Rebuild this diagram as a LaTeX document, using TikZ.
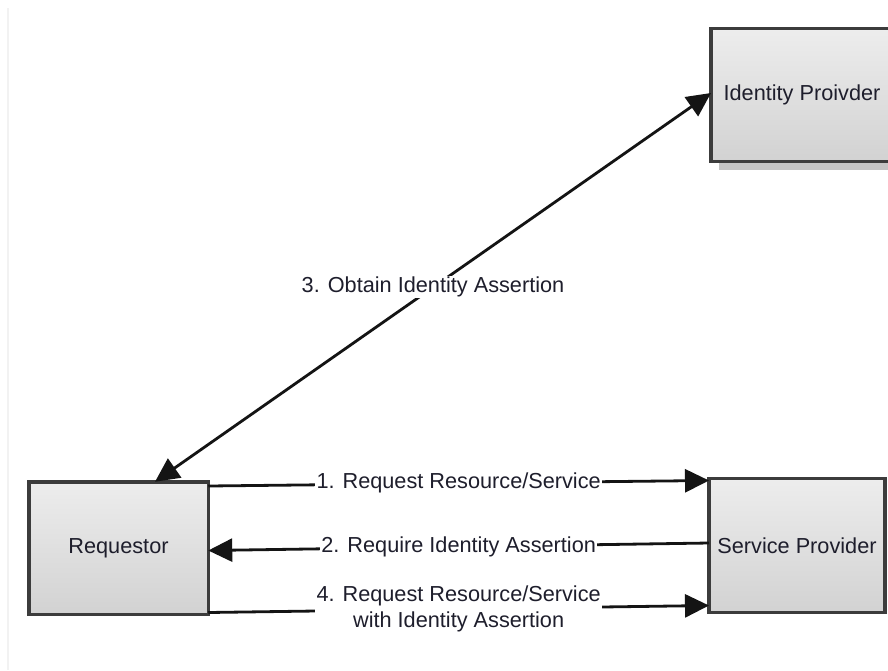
\documentclass[tikz,border=0pt]{standalone}
\usepackage{fontspec}
\setmainfont{Liberation Sans}
\usetikzlibrary{arrows.meta,shadows}
\definecolor{boxedge}{HTML}{3C3C3C}
\definecolor{boxtop}{HTML}{EDEDED}
\definecolor{boxbottom}{HTML}{D2D2D2}
\definecolor{inktext}{HTML}{1E1E2C}
\definecolor{shadowgray}{HTML}{C4C4C4}
\begin{document}
\begin{tikzpicture}[x=1pt,y=-1pt,
  actor/.style={draw=boxedge, line width=3.5pt, top color=boxtop, bottom color=boxbottom,
    shading angle=0, inner sep=0pt, outer sep=0pt, text=inktext,
    font=\fontsize{21.7}{26}\selectfont},
  flow/.style={draw=black!92, line width=2.8pt,
    -{Triangle[length=24pt,width=23pt]}},
  dualflow/.style={flow, {Triangle[length=24pt,width=23pt]}-{Triangle[length=24pt,width=23pt]}},
  msg/.style={fill=white, inner xsep=1.5pt, inner ysep=1pt, text=inktext,
    font=\fontsize{21.7}{26}\selectfont, align=center}]
  \useasboundingbox (0,0) rectangle (888,670);
  \clip (0,0) rectangle (888,670);
  \fill[white] (0,0) rectangle (888,670);
  % faint page margin on the left
  \draw[color=black!5, line width=1.2pt] (8,8) -- (8,670);

  % shadow behind the identity provider
  \fill[shadowgray] (719,96) rectangle (900,170);
  \node[actor, minimum width=182pt, minimum height=133pt] (idp) at (802,94.75) {Identity Proivder};
  \node[actor, minimum width=179.5pt, minimum height=132.5pt] (req) at (118.5,548) {Requestor};
  \node[actor, minimum width=176pt, minimum height=134pt] (sp) at (797,545.5) {Service Provider};

  % messages between the parties
  \draw[flow] ([yshift=-4.25pt]req.north east) -- node[msg] {1. Request Resource/Service} ([yshift=-2pt]sp.north west);
  \draw[flow] ([yshift=-64.5pt]sp.north west) -- node[msg] {2. Require Identity Assertion} ([yshift=-68.75pt]req.north east);
  \draw[dualflow] ([xshift=36.5pt]req.north) -- node[msg] {3. Obtain Identity Assertion} ([yshift=1.75pt]idp.west);
  \draw[flow] ([yshift=1.75pt]req.south east) -- node[msg, inner ysep=0pt] {4. Request Resource/Service\\with Identity Assertion} ([yshift=-127pt]sp.north west);
\end{tikzpicture}
\end{document}
